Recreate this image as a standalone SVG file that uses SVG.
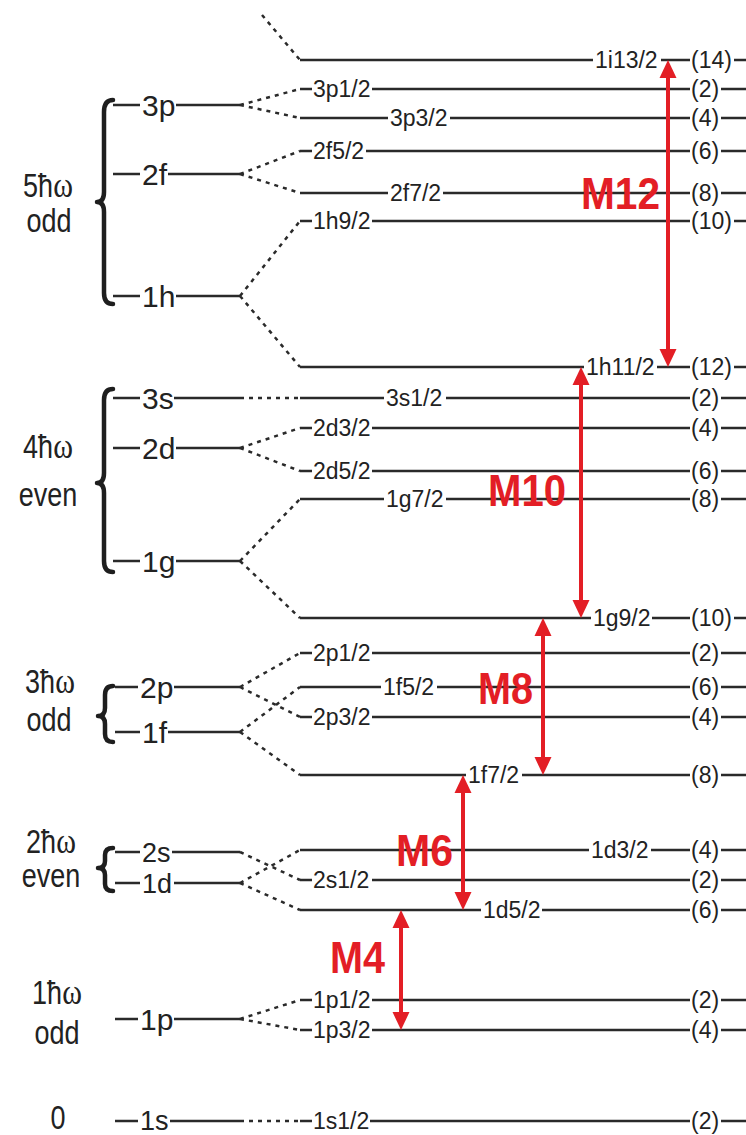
<svg xmlns="http://www.w3.org/2000/svg" width="746" height="1135" viewBox="0 0 746 1135">
<style>
.lv{stroke:#2a2a2a;stroke-width:2.5;fill:none}
.dot{stroke:#2a2a2a;stroke-width:2.5;fill:none;stroke-dasharray:4 5}
.br{stroke:#1e1e1e;stroke-width:4.5;fill:none;stroke-linecap:round;stroke-linejoin:round}
.big{font-family:"Liberation Sans",Arial,sans-serif;font-size:30px;fill:#222}
.bs{font-family:"Liberation Sans",Arial,sans-serif;font-size:27px;fill:#222}
.grp{font-family:"Liberation Sans",Arial,sans-serif;font-size:27px;fill:#222;text-anchor:middle}
.om{font-family:"Liberation Serif","Times New Roman",serif;font-size:30px}
.sm{font-family:"Liberation Sans",Arial,sans-serif;font-size:23px;fill:#222}
.arr{stroke:#e31e25;stroke-width:4;fill:none}
.m{font-family:"Liberation Sans",Arial,sans-serif;font-size:45px;font-weight:bold;fill:#e31e25}
</style>
<defs>
<marker id="ah" markerUnits="userSpaceOnUse" markerWidth="18" markerHeight="18" viewBox="0 -9 18 18" refX="1" refY="0" orient="auto-start-reverse">
<path d="M0,-8.5 L18,0 L0,8.5 z" fill="#e31e25"/>
</marker>
</defs>

<!-- group labels and braces -->
<g id="shell5">
<text class="grp" transform="translate(48,197) scale(1,1.22)">5ħ<tspan class="om">ω</tspan></text>
<text class="grp" transform="translate(49,232) scale(1,1.22)">odd</text>
<path class="br" d="M113,100 Q104,100 104,112 L104,192 Q104,202 97,202 Q104,202 104,212 L104,293 Q104,304 113,304"/>
</g>
<g id="shell4">
<text class="grp" transform="translate(48,458) scale(1,1.22)">4ħ<tspan class="om">ω</tspan></text>
<text class="grp" transform="translate(48,506) scale(1,1.22)">even</text>
<path class="br" d="M113,389 Q104,389 104,400 L104,473 Q104,483 97,483 Q104,483 104,493 L104,561 Q104,572 113,572"/>
</g>
<g id="shell3">
<text class="grp" transform="translate(50,693) scale(1,1.22)">3ħ<tspan class="om">ω</tspan></text>
<text class="grp" transform="translate(49,731) scale(1,1.22)">odd</text>
<path class="br" d="M113,686 Q105,686 105,695 L105,708 Q105,716 98,716 Q105,716 105,724 L105,734 Q105,742 113,742"/>
</g>
<g id="shell2">
<text class="grp" transform="translate(51,853) scale(1,1.22)">2ħ<tspan class="om">ω</tspan></text>
<text class="grp" transform="translate(51,887) scale(1,1.22)">even</text>
<path class="br" d="M113,848 Q105,848 105,855 L105,861 Q105,868 98,868 Q105,868 105,875 L105,884 Q105,891 113,891"/>
</g>
<g id="shell1">
<text class="grp" transform="translate(57,1004) scale(1,1.22)">1ħ<tspan class="om">ω</tspan></text>
<text class="grp" transform="translate(57,1044) scale(1,1.22)">odd</text>
</g>
<g id="shell0">
<text class="grp" transform="translate(58,1129) scale(1,1.2)">0</text>
</g>

<!-- left (oscillator) levels -->
<g id="L3p"><path class="lv" d="M113,105 H140 M176,105 H240"/><text class="big" x="142" y="116">3p</text></g>
<g id="L2f"><path class="lv" d="M113,174 H140 M168,174 H240"/><text class="big" x="142" y="185">2f</text></g>
<g id="L1h"><path class="lv" d="M113,296 H140 M176,296 H240"/><text class="big" x="142" y="307">1h</text></g>
<g id="L3s"><path class="lv" d="M113,398 H140 M174,398 H240"/><text class="big" x="142" y="409">3s</text></g>
<g id="L2d"><path class="lv" d="M113,448 H140 M176,448 H240"/><text class="big" x="142" y="459">2d</text></g>
<g id="L1g"><path class="lv" d="M113,561 H140 M176,561 H240"/><text class="big" x="142" y="572">1g</text></g>
<g id="L2p"><path class="lv" d="M115,687 H138 M174,687 H240"/><text class="big" x="140" y="698">2p</text></g>
<g id="L1f"><path class="lv" d="M115,732 H140 M168,732 H240"/><text class="big" x="142" y="743">1f</text></g>
<g id="L2s"><path class="lv" d="M115,852 H140 M172,852 H240"/><text class="bs" x="142" y="862">2s</text></g>
<g id="L1d"><path class="lv" d="M115,883 H140 M174,883 H240"/><text class="bs" x="142" y="893">1d</text></g>
<g id="L1p"><path class="lv" d="M115,1019 H138 M174,1019 H240"/><text class="big" x="140" y="1030">1p</text></g>
<g id="L1s"><path class="lv" d="M115,1121 H138 M170,1121 H240"/><text class="bs" x="140" y="1130">1s</text></g>

<!-- right (spin-orbit) levels -->
<g id="R1i13"><path class="lv" d="M300,60 H593 M661,60 H690 M734,60 H746"/><text class="sm" x="595" y="68">1i13/2</text><text class="sm" x="691" y="68">(14)</text></g>
<g id="R3p1"><path class="lv" d="M300,89 H312 M372,89 H690 M721,89 H746"/><text class="sm" x="313" y="97">3p1/2</text><text class="sm" x="691" y="97">(2)</text></g>
<g id="R3p3"><path class="lv" d="M300,118 H388 M450,118 H690 M721,118 H746"/><text class="sm" x="390" y="126">3p3/2</text><text class="sm" x="691" y="126">(4)</text></g>
<g id="R2f5"><path class="lv" d="M300,151 H312 M366,151 H690 M721,151 H746"/><text class="sm" x="313" y="159">2f5/2</text><text class="sm" x="691" y="159">(6)</text></g>
<g id="R2f7"><path class="lv" d="M300,193 H388 M443,193 H690 M721,193 H746"/><text class="sm" x="390" y="201">2f7/2</text><text class="sm" x="691" y="201">(8)</text></g>
<g id="R1h9"><path class="lv" d="M300,221 H312 M372,221 H690 M734,221 H746"/><text class="sm" x="313" y="229">1h9/2</text><text class="sm" x="691" y="229">(10)</text></g>
<g id="R1h11"><path class="lv" d="M300,367 H584 M657,367 H690 M734,367 H746"/><text class="sm" x="586" y="375">1h11/2</text><text class="sm" x="691" y="375">(12)</text></g>
<g id="R3s1"><path class="lv" d="M300,398 H384 M446,398 H690 M721,398 H746"/><text class="sm" x="386" y="406">3s1/2</text><text class="sm" x="691" y="406">(2)</text></g>
<g id="R2d3"><path class="lv" d="M300,428 H312 M372,428 H690 M721,428 H746"/><text class="sm" x="313" y="436">2d3/2</text><text class="sm" x="691" y="436">(4)</text></g>
<g id="R2d5"><path class="lv" d="M300,471 H312 M372,471 H690 M721,471 H746"/><text class="sm" x="313" y="479">2d5/2</text><text class="sm" x="691" y="479">(6)</text></g>
<g id="R1g7"><path class="lv" d="M300,499 H384 M446,499 H690 M721,499 H746"/><text class="sm" x="386" y="507">1g7/2</text><text class="sm" x="691" y="507">(8)</text></g>
<g id="R1g9"><path class="lv" d="M300,618 H591 M652,618 H690 M734,618 H746"/><text class="sm" x="593" y="626">1g9/2</text><text class="sm" x="691" y="626">(10)</text></g>
<g id="R2p1"><path class="lv" d="M300,653 H312 M372,653 H690 M721,653 H746"/><text class="sm" x="313" y="661">2p1/2</text><text class="sm" x="691" y="661">(2)</text></g>
<g id="R1f5"><path class="lv" d="M300,687 H381 M437,687 H690 M721,687 H746"/><text class="sm" x="383" y="695">1f5/2</text><text class="sm" x="691" y="695">(6)</text></g>
<g id="R2p3"><path class="lv" d="M300,717 H312 M372,717 H690 M721,717 H746"/><text class="sm" x="313" y="725">2p3/2</text><text class="sm" x="691" y="725">(4)</text></g>
<g id="R1f7"><path class="lv" d="M300,775 H466 M522,775 H690 M721,775 H746"/><text class="sm" x="468" y="783">1f7/2</text><text class="sm" x="691" y="783">(8)</text></g>
<g id="R1d3"><path class="lv" d="M300,850 H589 M651,850 H690 M721,850 H746"/><text class="sm" x="591" y="858">1d3/2</text><text class="sm" x="691" y="858">(4)</text></g>
<g id="R2s1"><path class="lv" d="M300,880 H312 M372,880 H690 M721,880 H746"/><text class="sm" x="313" y="888">2s1/2</text><text class="sm" x="691" y="888">(2)</text></g>
<g id="R1d5"><path class="lv" d="M300,910 H481 M542,910 H690 M721,910 H746"/><text class="sm" x="483" y="918">1d5/2</text><text class="sm" x="691" y="918">(6)</text></g>
<g id="R1p1"><path class="lv" d="M300,1000 H312 M372,1000 H690 M721,1000 H746"/><text class="sm" x="313" y="1008">1p1/2</text><text class="sm" x="691" y="1008">(2)</text></g>
<g id="R1p3"><path class="lv" d="M300,1030 H312 M372,1030 H690 M721,1030 H746"/><text class="sm" x="313" y="1038">1p3/2</text><text class="sm" x="691" y="1038">(4)</text></g>
<g id="R1s1"><path class="lv" d="M300,1121 H312 M370,1121 H690 M721,1121 H746"/><text class="sm" x="313" y="1129">1s1/2</text><text class="sm" x="691" y="1129">(2)</text></g>

<!-- connectors (level splittings) -->
<g id="connectors">
<path class="dot" d="M262,15 L300,60"/>
<path class="dot" d="M240,105 L300,89 M240,105 L300,118"/>
<path class="dot" d="M240,174 L300,151 M240,174 L300,193"/>
<path class="dot" d="M240,296 L300,221 M240,296 L300,367"/>
<path class="dot" d="M240,398 L300,398"/>
<path class="dot" d="M240,448 L300,428 M240,448 L300,471"/>
<path class="dot" d="M240,561 L300,499 M240,561 L300,618"/>
<path class="dot" d="M240,687 L300,653 M240,687 L300,717"/>
<path class="dot" d="M240,732 L300,687 M240,732 L300,775"/>
<path class="dot" d="M240,852 L300,880"/>
<path class="dot" d="M240,883 L300,850 M240,883 L300,910"/>
<path class="dot" d="M240,1019 L300,1000 M240,1019 L300,1030"/>
<path class="dot" d="M240,1121 L300,1121"/>
</g>

<!-- multipole transitions -->
<g id="transitions">
<path class="arr" d="M668,77 V350" marker-start="url(#ah)" marker-end="url(#ah)"/>
<path class="arr" d="M581,384 V601" marker-start="url(#ah)" marker-end="url(#ah)"/>
<path class="arr" d="M543,635 V758" marker-start="url(#ah)" marker-end="url(#ah)"/>
<path class="arr" d="M463,792 V893" marker-start="url(#ah)" marker-end="url(#ah)"/>
<path class="arr" d="M401,927 V1013" marker-start="url(#ah)" marker-end="url(#ah)"/>
<text class="m" x="581" y="209" textLength="79" lengthAdjust="spacingAndGlyphs">M12</text>
<text class="m" x="488" y="506" textLength="78" lengthAdjust="spacingAndGlyphs">M10</text>
<text class="m" x="478" y="704" textLength="55" lengthAdjust="spacingAndGlyphs">M8</text>
<text class="m" x="396" y="866" textLength="57" lengthAdjust="spacingAndGlyphs">M6</text>
<text class="m" x="330" y="973" textLength="55" lengthAdjust="spacingAndGlyphs">M4</text>
</g>
</svg>
